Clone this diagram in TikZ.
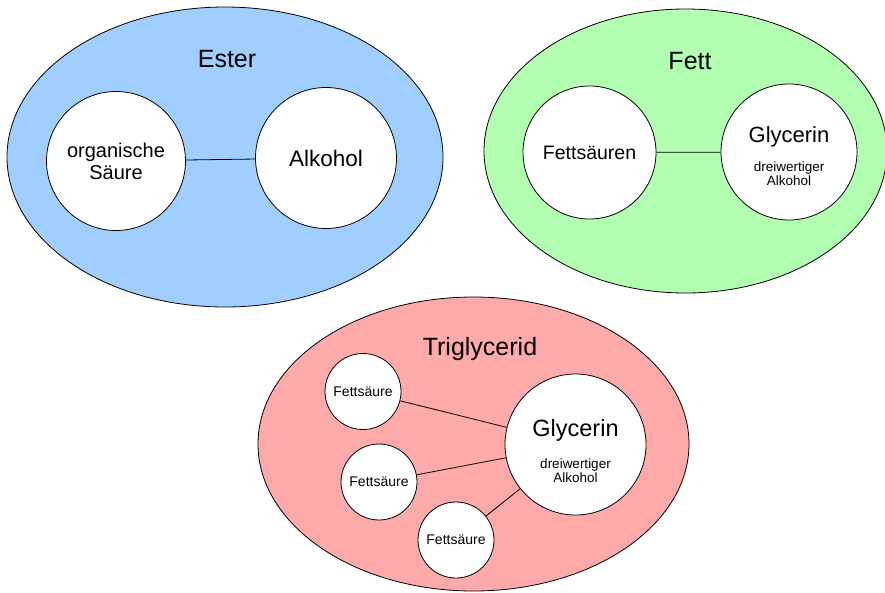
\documentclass[tikz,border=0pt]{standalone}
\usepackage{fontspec}
\setmainfont{Liberation Sans}
\usepackage{tikz}
\usetikzlibrary{shapes.geometric}
\usetikzlibrary{positioning}
\definecolor{esterblue}{RGB}{160,207,255}
\definecolor{fettgreen}{RGB}{178,255,178}
\definecolor{trigred}{RGB}{255,170,170}
\tikzstyle{bag}=[ellipse,draw,line width=0.8pt,inner sep=0pt]
\tikzstyle{ball}=[circle,draw,fill=white,line width=0.8pt,inner sep=0pt,align=center]
\tikzstyle{title}=[anchor=base,font=\fontsize{25}{30}\selectfont]
\tikzstyle{small}=[align=center,font=\fontsize{13.5}{14.3}\selectfont]
\tikzstyle{con}=[line width=0.8pt]

\begin{document}
\begin{tikzpicture}[x=1pt,y=-1pt]
\useasboundingbox (0,0) rectangle (885,592);
\clip (0,0) rectangle (885,592);

%Ester
\node[bag, fill=esterblue, minimum width=436pt, minimum height=300pt] (ester) at (225,157) {};
\node[title] (estername) at (227,67) {Ester};
\node[ball, minimum size=139pt, font=\fontsize{20}{22}\selectfont] (saeure) at (116,161) {organische\\Säure};
\node[ball, minimum size=141pt, font=\fontsize{22.5}{26}\selectfont] (alkohol) at (326,158) {Alkohol};
\draw[con] (saeure) -- (alkohol);

%Fett
\node[bag, fill=fettgreen, minimum width=403pt, minimum height=284pt] (fett) at (685.5,151) {};
\node[title] (fettname) at (690,69) {Fett};
\node[ball, minimum size=133pt, font=\fontsize{19.5}{23}\selectfont] (fettsaeuren) at (589.5,152.5) {Fettsäuren};
\node[ball, minimum size=136pt] (glyfett) at (789,152) {};
\node[anchor=base, font=\fontsize{22}{26}\selectfont] (glyfettname) at ([yshift=10pt]glyfett.center) {Glycerin};
\node[small] (glyfettinfo) at ([yshift=-22pt]glyfett.center) {dreiwertiger\\Alkohol};
\draw[con] (fettsaeuren) -- (glyfett);

%Triglycerid
\node[bag, fill=trigred, minimum width=431pt, minimum height=294pt] (trig) at (473.5,444) {};
\node[title] (trigname) at (480,355) {Triglycerid};
\node[ball, minimum size=141pt] (glytrig) at (575.5,444.5) {};
\node[anchor=base, font=\fontsize{23.5}{27}\selectfont] (glytrigname) at ([yshift=8.5pt]glytrig.center) {Glycerin};
\node[small] (glytriginfo) at ([yshift=-26.5pt]glytrig.center) {dreiwertiger\\Alkohol};

%Fettsaeuren
\foreach \n/\x/\y in {fs1/363/391.5, fs2/379/482, fs3/456/540} {
  \node[ball, minimum size=76pt, font=\fontsize{14}{16}\selectfont] (\n) at (\x,\y) {Fettsäure};
  \draw[con] (\n) -- (glytrig);
}

\end{tikzpicture}
\end{document}
